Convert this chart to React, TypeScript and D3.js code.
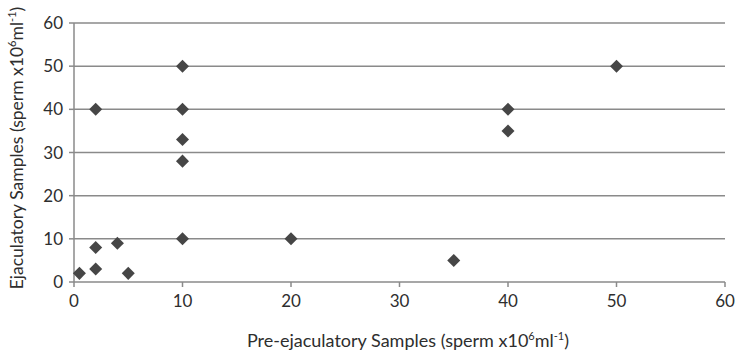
import React from "react";
import * as d3 from "d3";

const preEjac = [0.5, 2, 2, 2, 4, 5, 10, 10, 10, 10, 10, 20, 35, 40, 40, 50];
const ejac = [2, 40, 8, 3, 9, 2, 50, 40, 33, 28, 10, 10, 5, 40, 35, 50];
const xTicks = [0, 10, 20, 30, 40, 50, 60];
const yTicks = [0, 10, 20, 30, 40, 50, 60];

const W = 740;
const H = 358;
const FONT = "Lato, 'Open Sans', sans-serif";

export default function App() {
  const x = d3.scaleLinear().domain([0, 60]).range([74, 725]);
  const y = d3.scaleLinear().domain([0, 60]).range([282, 23]);
  const diamond = d3.symbol().type(d3.symbolSquare).size(85)();
  const pts = preEjac.map((v, i) => ({ x: v, y: ejac[i] }));
  const grid = "#8a8a8a";
  const txt = "#2e2e2e";
  return (
    <svg width={W} height={H} style={{ position: "absolute", left: 0, top: 0, background: "#fff" }}>
      {yTicks.filter((t) => t > 0).map((t) => (
        <line key={"g" + t} x1={x(0)} x2={x(60)} y1={y(t)} y2={y(t)} stroke={grid} strokeWidth={1.5} />
      ))}
      <line x1={x(0)} x2={x(0)} y1={y(0)} y2={y(60)} stroke={grid} strokeWidth={1.5} />
      <line x1={x(0)} x2={x(60)} y1={y(0)} y2={y(0)} stroke={grid} strokeWidth={1.5} />
      {yTicks.map((t) => (
        <g key={"y" + t}>
          <line x1={x(0) - 5} x2={x(0)} y1={y(t)} y2={y(t)} stroke={grid} strokeWidth={1.5} />
          <text x={63} y={y(t) + 6} textAnchor="end" fontSize={17} fontFamily={FONT} fill={txt}>
            {t}
          </text>
        </g>
      ))}
      {xTicks.map((t) => (
        <g key={"x" + t}>
          <line x1={x(t)} x2={x(t)} y1={y(0)} y2={y(0) + 5} stroke={grid} strokeWidth={1.5} />
          <text x={x(t)} y={307} textAnchor="middle" fontSize={17} fontFamily={FONT} fill={txt}>
            {t}
          </text>
        </g>
      ))}
      {pts.map((p, i) => (
        <path
          key={i}
          d={diamond || ""}
          transform={`translate(${x(p.x)},${y(p.y)}) rotate(45)`}
          fill="#464646"
        />
      ))}
      <text x={408} y={347} textAnchor="middle" fontSize={18} fontFamily={FONT} fill={txt}>
        Pre-ejaculatory Samples (sperm x10
        <tspan dy={-7} fontSize={11}>6</tspan>
        <tspan dy={7}>ml</tspan>
        <tspan dy={-7} fontSize={11}>-1</tspan>
        <tspan dy={7}>)</tspan>
      </text>
      <text
        transform={`translate(23,148) rotate(-90)`}
        textAnchor="middle"
        fontSize={17.5}
        fontFamily={FONT}
        fill={txt}
      >
        Ejaculatory Samples (sperm x10
        <tspan dy={-7} fontSize={11}>6</tspan>
        <tspan dy={7}>ml</tspan>
        <tspan dy={-7} fontSize={11}>-1</tspan>
        <tspan dy={7}>)</tspan>
      </text>
    </svg>
  );
}
